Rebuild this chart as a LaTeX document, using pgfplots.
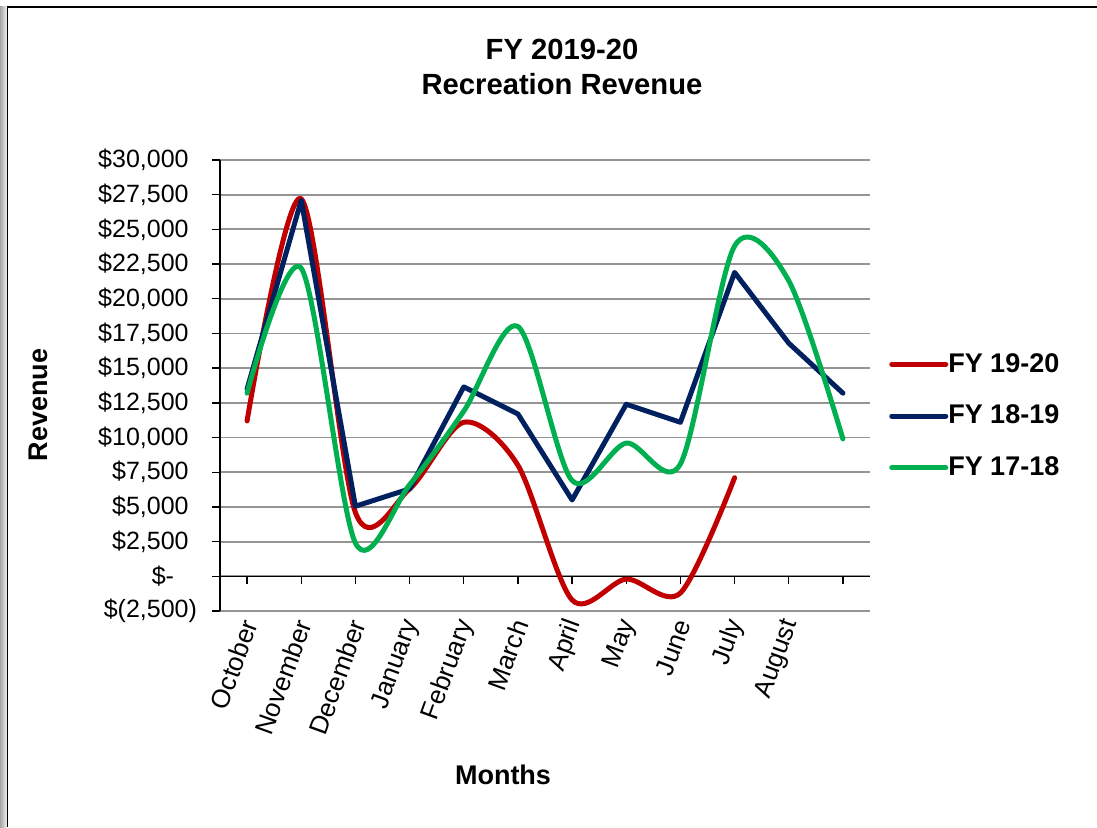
\documentclass[border=0pt]{standalone}
\usepackage{pgfplots}
\pgfplotsset{compat=1.18}
\usepackage{fontspec}
\setmainfont{Liberation Sans}
\definecolor{fyred}{HTML}{C00000}
\definecolor{fynavy}{HTML}{002060}
\definecolor{fygreen}{HTML}{00B050}
\newcommand\bfont{\fontsize{13.5}{17.5}\selectfont\bfseries}
\newcommand\titfont{\fontsize{14.6}{17.5}\selectfont\bfseries}
\newcommand\tfont{\fontsize{12.5}{15}\selectfont}
\newcommand\mfont{\fontsize{13}{15}\selectfont}
\begin{document}
\begin{tikzpicture}
\useasboundingbox (0,0) rectangle (548.5pt,413.5pt);
\shade[left color=black!35, right color=black!8] (0,0) rectangle (3.2pt,410pt);
\draw[black, line width=0.6pt] (3.6pt,0) -- (3.6pt,410pt) -- (548.5pt,410pt);
\begin{axis}[
  at={(110pt,108pt)}, anchor=south west,
  scale only axis, width=325pt, height=225.5pt,
  xmin=-0.5, xmax=11.5, ymin=-2500, ymax=30000,
  scaled y ticks=false,
  axis lines*=left,
  x axis line style={draw=none},
  y axis line style={black, line width=0.7pt},
  xtick={0,...,10},
  xticklabels={October,November,December,January,February,March,April,May,June,July,August},
  xtick style={draw=none},
  xticklabel style={rotate=70, anchor=east, font=\mfont, xshift=3pt, yshift=-1.5pt},
  ytick={-2500,0,2500,5000,7500,10000,12500,15000,17500,20000,22500,25000,27500,30000},
  yticklabels={{\$(2,500)},{\$-\hspace{7.3pt}\hphantom{)}},{\$2,500\hphantom{)}},{\$5,000\hphantom{)}},{\$7,500\hphantom{)}},{\$10,000\hphantom{)}},{\$12,500\hphantom{)}},{\$15,000\hphantom{)}},{\$17,500\hphantom{)}},{\$20,000\hphantom{)}},{\$22,500\hphantom{)}},{\$25,000\hphantom{)}},{\$27,500\hphantom{)}},{\$30,000\hphantom{)}}},
  yticklabel style={font=\tfont, anchor=east, xshift=-4pt},
  ytick style={black, line width=0.7pt},
  tick align=outside,
  major tick length=4pt,
  ymajorgrids,
  grid style={black!42, line width=0.9pt},
  legend style={at={(1.029,0.4323)}, anchor=west, draw=none, fill=none,
    font=\bfont, row sep=11pt, inner sep=0pt},
  legend cell align=left,
  legend image code/.code={\draw[#1, line cap=round] (0pt,0pt) -- (25pt,0pt);\draw[#1, overlay] (25pt,0pt) -- (27pt,0pt);},
  clip=false,
]
\draw[black, line width=0.7pt] (axis cs:-0.5,0) -- (axis cs:11.5,0);
\pgfplotsinvokeforeach{0,...,11}{\draw[black, line width=0.7pt] (axis cs:#1,0) -- ++(0pt,-4pt);}
\addplot[fyred, line width=2.5pt, smooth, line cap=round, line join=round] coordinates {
(0,11200) (1,27200) (2,4600) (3,6300) (4,11100) (5,8000) (6,-1700) (7,-200) (8,-1200) (9,7100)};
\addlegendentry{FY 19-20}
\addplot[fynavy, line width=2.5pt, line cap=round, line join=round] coordinates {
(0,13500) (1,27100) (2,5050) (3,6300) (4,13650) (5,11700) (6,5500) (7,12400) (8,11100) (9,21900) (10,16800) (11,13200)};
\addlegendentry{FY 18-19}
\addplot[fygreen, line width=2.5pt, smooth, line cap=round, line join=round] coordinates {
(0,13200) (1,22200) (2,2400) (3,6600) (4,11900) (5,18000) (6,6900) (7,9600) (8,8100) (9,23800) (10,21300) (11,9900)};
\addlegendentry{FY 17-18}
\end{axis}
\node[font=\titfont, align=center] at (281pt,380pt) {FY 2019-20\\Recreation Revenue};
\node[font=\bfont, rotate=90] at (19pt,211pt) {Revenue};
\node[font=\bfont] at (251.5pt,26pt) {Months};
\end{tikzpicture}
\end{document}
